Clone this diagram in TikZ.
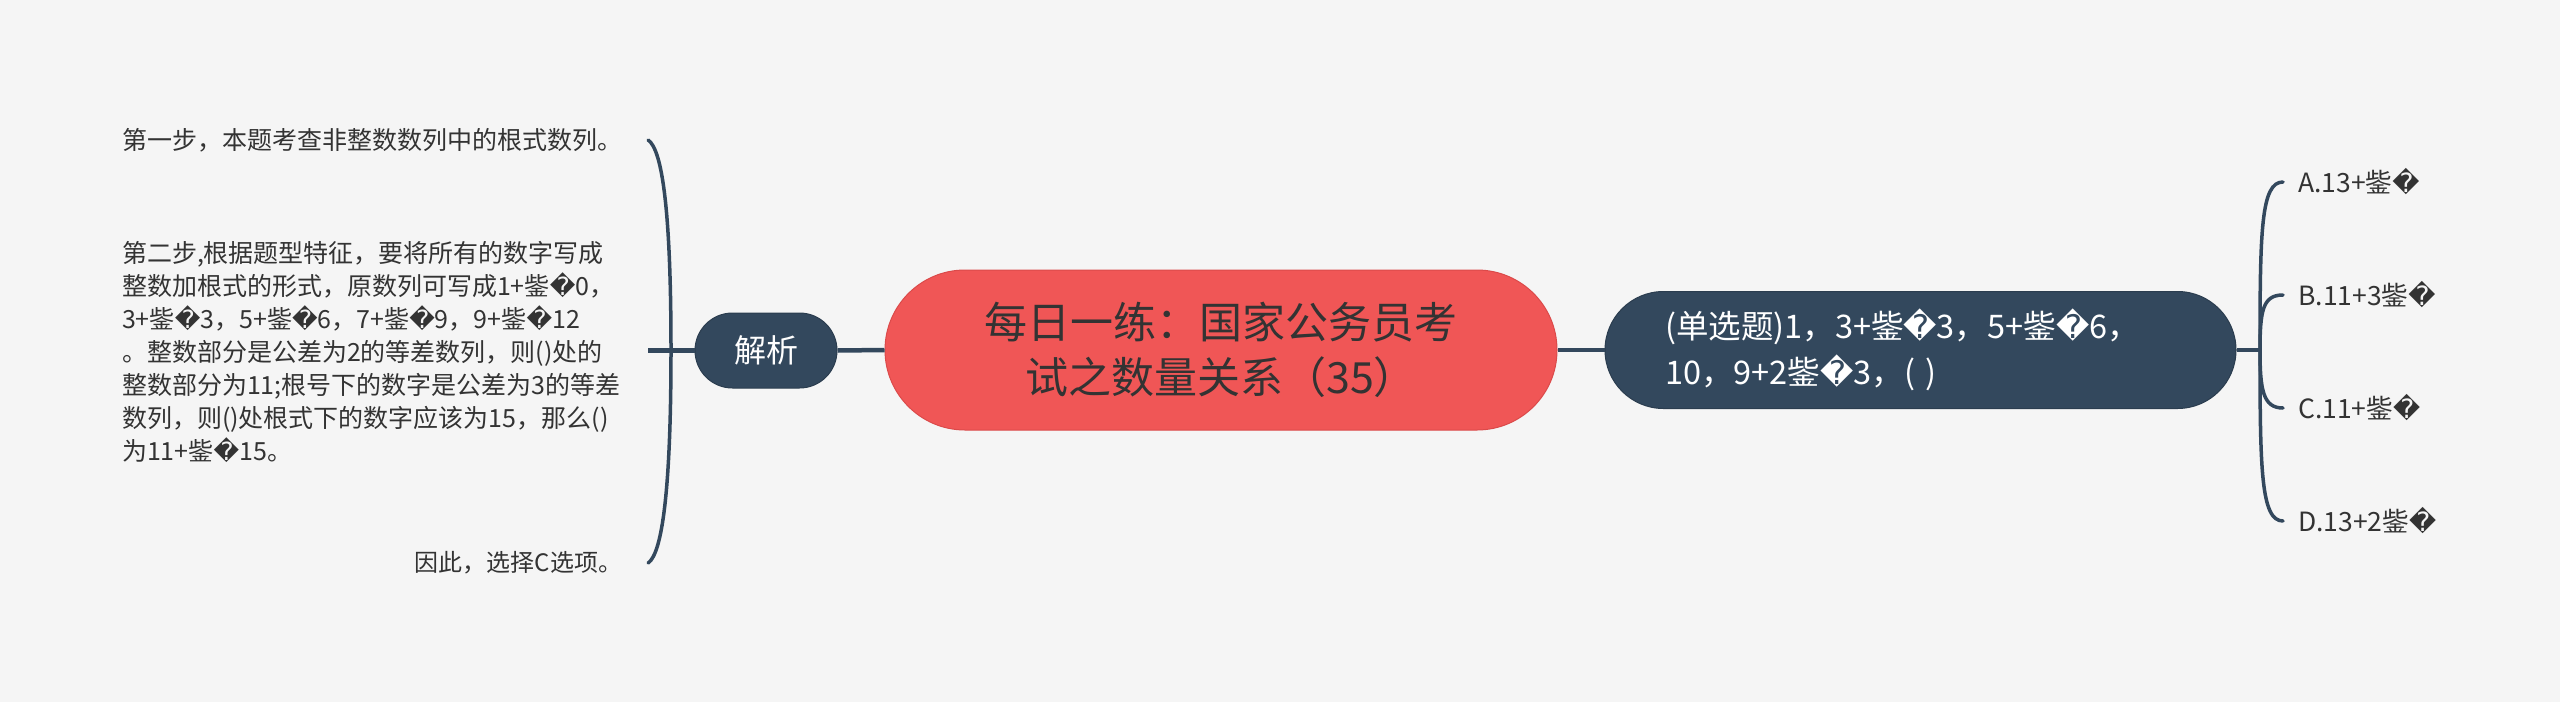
\documentclass[tikz,border=0pt]{standalone}
\usepackage{fontspec}
\setmainfont{Noto Sans CJK SC}
\newfontfamily\djv{DejaVu Sans}
\newcommand\rp{{\djv\char"FFFD}}
\definecolor{bgc}{HTML}{F5F5F5}
\definecolor{navy}{HTML}{33485D}
\definecolor{redc}{HTML}{F05656}
\definecolor{redb}{HTML}{DB4A4A}
\definecolor{txt}{HTML}{333333}
\begin{document}
\begin{tikzpicture}[x=1pt,y=-1pt,
  conn/.style={draw=navy,line width=4.5pt},
  brk/.style={draw=navy,line width=3.5pt,line cap=round},
  rootbox/.style={fill=redc,draw=redb,line width=1pt,rounded corners=80pt,minimum width=672pt,minimum height=160pt,align=center,text=txt,font=\fontsize{43}{55}\selectfont,inner sep=0pt},
  mainbox/.style={fill=navy,draw=navy!85!black,line width=1pt,text=white,inner sep=0pt},
  leaf/.style={text=txt,font=\fontsize{25}{33}\selectfont,text width=500pt,inner xsep=26pt,inner ysep=0pt},
  opt/.style={text=txt,font=\fontsize{26.5}{30}\selectfont,anchor=west,inner xsep=15pt,inner ysep=0pt}
]
\fill[bgc] (0,0) rectangle (2560,702);
\useasboundingbox (0,0) rectangle (2560,702);

\node[rootbox] (root) at (1221,350) {每日一练：国家公务员考\\试之数量关系（35）};
\node[mainbox,minimum width=142pt,minimum height=75pt,rounded corners=37.5pt,font=\fontsize{32}{38}\selectfont] (jx) at (766,350.5) {解析};
\node[mainbox,minimum height=117pt,rounded corners=58.5pt,text width=511pt,align=left,inner xsep=60pt,font=\fontsize{32.5}{46}\selectfont] (q) at (1920.5,350) {(单选题)1，3+鈭\rp3，5+鈭\rp6，\\10，9+2鈭\rp3，( )};

\node[leaf,align=left] (t1) at (372,140) {第一步，本题考查非整数数列中的根式数列。};
\node[leaf,align=left] (t2) at (372,352) {第二步,根据题型特征，要将所有的数字写成\\
整数加根式的形式，原数列可写成1+鈭\rp0，\\
3+鈭\rp3，5+鈭\rp6，7+鈭\rp9，9+鈭\rp12\\
。整数部分是公差为2的等差数列，则()处的\\
整数部分为11;根号下的数字是公差为3的等差\\
数列，则()处根式下的数字应该为15，那么()\\
为11+鈭\rp15。};
\node[leaf,align=right,font=\fontsize{24}{30}\selectfont] (t3) at (372,563) {因此，选择C选项。};

\node[opt] (oa) at (2283,182) {A.13+鈭\rp};
\node[opt] (ob) at (2283,295) {B.11+3鈭\rp};
\node[opt] (oc) at (2283,408) {C.11+鈭\rp};
\node[opt] (od) at (2283,521) {D.13+2鈭\rp};

\coordinate (lj) at (671,350);
\coordinate (rj) at (2260,350);

\draw[conn] (jx.east) -- (root.west);
\draw[conn] (root.east) -- (q.west);
\draw[conn] (q.east) -- (rj);
\draw[conn] (jx.west) -- (jx.west -| t2.east);

\draw[brk] (lj) .. controls +(0,-140) and +(14,10) .. (t1.east);
\draw[brk] (lj) .. controls +(0,140) and +(14,-10) .. (t3.east);

\draw[brk] (rj) .. controls +(0,-120) and +(-22,0) .. (oa.west);
\draw[brk] (rj) .. controls +(0,-40) and +(-20,0) .. (ob.west);
\draw[brk] (rj) .. controls +(0,40) and +(-20,0) .. (oc.west);
\draw[brk] (rj) .. controls +(0,120) and +(-22,0) .. (od.west);
\end{tikzpicture}
\end{document}
